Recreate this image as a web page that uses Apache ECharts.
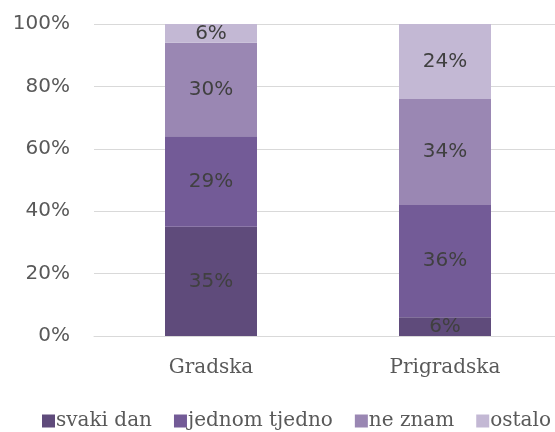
<!DOCTYPE html>
<html>
<head>
<meta charset="utf-8">
<script src="https://cdn.jsdelivr.net/npm/echarts@6/dist/echarts.min.js"></script>
<style>
  html, body { margin: 0; padding: 0; background: #fff; }
  #chart { width: 555px; height: 432px; }
</style>
</head>
<body>
<div id="chart"></div>
<script>
var categories = ['Gradska', 'Prigradska'];
var seriesNames = ['svaki dan', 'jednom tjedno', 'ne znam', 'ostalo'];
var svakiDan = [35, 6];
var jednomTjedno = [29, 36];
var neZnam = [30, 34];
var ostalo = [6, 24];
var yTicks = [0, 20, 40, 60, 80, 100];

var colors = ['#5f4b7b', '#735b97', '#9a87b3', '#c3b8d4'];
var values = [svakiDan, jednomTjedno, neZnam, ostalo];

var chart = echarts.init(document.getElementById('chart'));

var series = seriesNames.map(function (name, i) {
    return {
        name: name,
        type: 'bar',
        stack: 'total',
        barWidth: 92,
        data: values[i],
        itemStyle: { color: colors[i] },
        label: {
            show: true,
            position: 'inside',
            formatter: '{c}%',
            color: '#404040',
            fontFamily: 'DejaVu Sans',
            fontSize: 20
        }
    };
});

chart.setOption({
    animation: false,
    grid: { left: 94, right: -7, top: 24, bottom: 96, outerBoundsMode: 'none' },
    legend: {
        data: seriesNames,
        top: 411,
        left: 42,
        width: 550,
        padding: 0,
        icon: 'rect',
        itemWidth: 13,
        itemHeight: 13,
        itemGap: 22,
        textStyle: { color: '#595959', fontFamily: 'DejaVu Serif', fontSize: 20, padding: [0, 0, 0, -4] }
    },
    xAxis: {
        type: 'category',
        data: categories,
        axisLine: { lineStyle: { color: '#d9d9d9' } },
        axisTick: { show: false },
        axisLabel: { color: '#595959', fontFamily: 'DejaVu Serif', fontSize: 20, margin: 22 }
    },
    yAxis: {
        type: 'value',
        min: yTicks[0],
        max: yTicks[yTicks.length - 1],
        interval: 20,
        axisLine: { show: false },
        axisTick: { show: false },
        splitLine: { lineStyle: { color: '#d9d9d9', width: 1 } },
        axisLabel: { color: '#595959', fontFamily: 'DejaVu Sans', fontSize: 20, margin: 24, formatter: '{value}%' }
    },
    series: series
});
</script>
</body>
</html>
